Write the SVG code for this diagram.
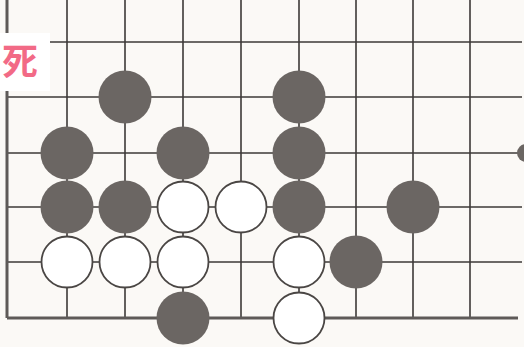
<svg xmlns="http://www.w3.org/2000/svg" width="524" height="347" viewBox="0 0 524 347">
<style>
.g{stroke:#3e3a38;stroke-width:1.6;fill:none}
.e{stroke:#5e5a58;stroke-width:3;fill:none}
.b{fill:#6b6663}
.w{fill:#ffffff;stroke:#4a4644;stroke-width:1.8}
.lbl{font-family:"Noto Sans CJK SC","Noto Sans CJK JP",sans-serif;font-weight:bold;font-size:36px;fill:#f26a86}
</style>
<rect width="524" height="347" fill="#fbf9f6"/>
<g id="grid">
<path class="g" d="M67 0V318M125 0V318M183 0V318M241 0V318M299 0V318M356 0V318M413 0V318M470 0V318"/>
<path class="g" d="M50 42H522M7 97H522M7 153H522M7 207H522M7 262H522"/>
<path class="e" d="M7 0V318M7 318H518"/>
</g>
<g id="label">
<rect x="0" y="33" width="50" height="58" fill="#ffffff"/>
<text class="lbl" x="2" y="75">死</text>
</g>
<g id="b1"><circle class="b" cx="125" cy="97" r="26.5"/></g>
<g id="b2"><circle class="b" cx="299" cy="97" r="26.5"/></g>
<g id="b3"><circle class="b" cx="67" cy="153" r="26.5"/></g>
<g id="b4"><circle class="b" cx="183" cy="153" r="26.5"/></g>
<g id="b5"><circle class="b" cx="299" cy="153" r="26.5"/></g>
<g id="b6"><circle class="b" cx="67" cy="207" r="26.5"/></g>
<g id="b7"><circle class="b" cx="125" cy="207" r="26.5"/></g>
<g id="b8"><circle class="b" cx="299" cy="207" r="26.5"/></g>
<g id="b9"><circle class="b" cx="413" cy="207" r="26.5"/></g>
<g id="b10"><circle class="b" cx="356" cy="262" r="26.5"/></g>
<g id="b11"><circle class="b" cx="183" cy="318" r="26.5"/></g>
<g id="b12"><circle class="b" cx="526" cy="153" r="9"/></g>
<g id="w1"><circle class="w" cx="183" cy="207" r="25.5"/></g>
<g id="w2"><circle class="w" cx="241" cy="207" r="25.5"/></g>
<g id="w3"><circle class="w" cx="67" cy="262" r="25.5"/></g>
<g id="w4"><circle class="w" cx="125" cy="262" r="25.5"/></g>
<g id="w5"><circle class="w" cx="183" cy="262" r="25.5"/></g>
<g id="w6"><circle class="w" cx="299" cy="262" r="25.5"/></g>
<g id="w7"><circle class="w" cx="299" cy="318" r="25.5"/></g>
</svg>
